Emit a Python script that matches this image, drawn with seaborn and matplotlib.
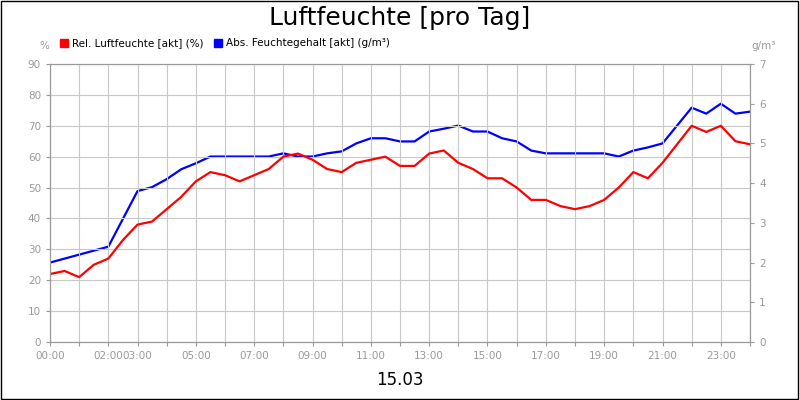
import matplotlib
matplotlib.use("Agg")
import matplotlib.pyplot as plt
import seaborn as sns
import numpy as np
import pandas as pd

hours = [i * 0.5 for i in range(49)]
rel = [22, 23, 21, 25, 27, 33, 38, 39, 43, 47,
       52, 55, 54, 52, 54, 56, 60, 61, 59, 56,
       55, 58, 59, 60, 57, 57, 61, 62, 58, 56,
       53, 53, 50, 46, 46, 44, 43, 44, 46, 50,
       55, 53, 58, 64, 70, 68, 70, 65, 64]
absf = [2.0, 2.1, 2.2, 2.3, 2.4, 3.1, 3.8, 3.9, 4.1, 4.35,
        4.5, 4.67, 4.67, 4.67, 4.67, 4.67, 4.75, 4.67, 4.67, 4.75,
        4.8, 5.0, 5.13, 5.13, 5.05, 5.05, 5.3, 5.37, 5.45, 5.3,
        5.3, 5.13, 5.05, 4.82, 4.75, 4.75, 4.75, 4.75, 4.75, 4.67,
        4.82, 4.9, 5.0, 5.45, 5.9, 5.75, 6.0, 5.75, 5.8]
tick_hours = [0, 2, 3, 5, 7, 9, 11, 13, 15, 17, 19, 21, 23]
tick_labels = ["00:00", "02:00", "03:00", "05:00", "07:00", "09:00", "11:00",
               "13:00", "15:00", "17:00", "19:00", "21:00", "23:00"]

df = pd.DataFrame({"h": hours, "rel": rel, "abs": absf})

fig = plt.figure(figsize=(8, 4), dpi=100)
fig.patch.set_facecolor("white")
ax = fig.add_axes([0.0625, 0.145, 0.875, 0.695])
ax2 = ax.twinx()
sns.lineplot(data=df, x="h", y="abs", ax=ax2, color="#0000ff", lw=1.6)
sns.lineplot(data=df, x="h", y="rel", ax=ax, color="#ff0000", lw=1.6)
ax.set_zorder(ax2.get_zorder() + 1)
ax.patch.set_visible(False)
ax.set_xlim(0, 24)
ax.set_ylim(0, 90)
ax2.set_ylim(0, 7)
ax.set_yticks(range(0, 91, 10))
ax2.set_yticks(range(0, 8))
ax.set_xticks(range(25), minor=False)
ax.set_xticklabels([""] * 25)
for h, l in zip(tick_hours, tick_labels):
    ax.text(h, -3, l, ha="center", va="top", fontsize=7.5, color="#999999")
ax.grid(True, color="#c8c8c8", lw=0.8)
ax.tick_params(axis="both", length=3, colors="#999999", labelsize=7.5)
ax2.tick_params(axis="y", length=3, colors="#999999", labelsize=7.5)
for a in (ax, ax2):
    a.set_xlabel(""); a.set_ylabel("")
    for s in a.spines.values():
        s.set_color("#999999")
fig.text(0.5, 0.955, "Luftfeuchte [pro Tag]", ha="center", va="center", fontsize=18)
fig.text(0.5, 0.05, "15.03", ha="center", va="center", fontsize=12)
fig.text(0.055, 0.878, "%", ha="center", fontsize=7.5, color="#999999")
fig.text(0.955, 0.878, "g/m³", ha="center", fontsize=7.5, color="#999999")
fig.patches.append(plt.Rectangle((0.075, 0.883), 0.01, 0.02, color="#ff0000", transform=fig.transFigure, figure=fig))
fig.text(0.09, 0.893, "Rel. Luftfeuchte [akt] (%)", va="center", fontsize=7.5)
fig.patches.append(plt.Rectangle((0.268, 0.883), 0.01, 0.02, color="#0000ff", transform=fig.transFigure, figure=fig))
fig.text(0.283, 0.893, "Abs. Feuchtegehalt [akt] (g/m³)", va="center", fontsize=7.5)
fig.patches.append(plt.Rectangle((0.001, 0.002), 0.997, 0.995, fill=False, ec="black", lw=1, transform=fig.transFigure, figure=fig))
fig.savefig("out.png", dpi=100)
